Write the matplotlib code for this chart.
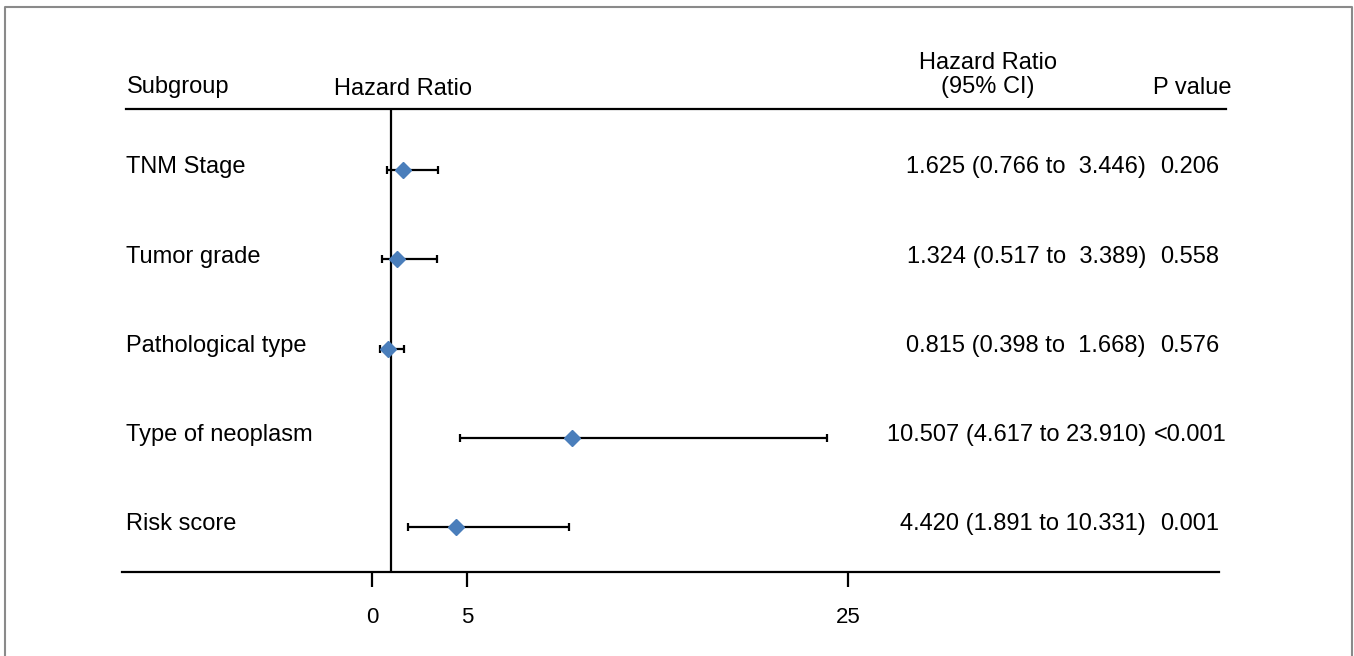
import matplotlib
matplotlib.use("Agg")
import matplotlib.pyplot as plt
from matplotlib.lines import Line2D
import matplotlib.transforms as mtransforms

plt.rcParams['font.family'] = ['Liberation Sans', 'DejaVu Sans']

subgroups = ["TNM Stage", "Tumor grade", "Pathological type", "Type of neoplasm", "Risk score"]
hr = [1.625, 1.324, 0.815, 10.507, 4.420]
ci_low = [0.766, 0.517, 0.398, 4.617, 1.891]
ci_high = [3.446, 3.389, 1.668, 23.910, 10.331]
hr_text = ["1.625 (0.766 to  3.446)", "1.324 (0.517 to  3.389)", "0.815 (0.398 to  1.668)",
           "10.507 (4.617 to 23.910)", "4.420 (1.891 to 10.331)"]
p_text = ["0.206", "0.558", "0.576", "<0.001", "0.001"]
xticks = [0, 5, 25]
ref_value = 1

W, H = 1354, 656
fig = plt.figure(figsize=(W / 100, H / 100), dpi=100)

def fx(px):
    return px / W

def fy(py):
    return 1 - py / H

ax_left, ax_right, ax_top, ax_bot = 122, 1219, 109, 572
ax = fig.add_axes([fx(ax_left), fy(ax_bot), fx(ax_right - ax_left), (ax_bot - ax_top) / H])
ax.patch.set_alpha(0)

ppu = (848 - 372) / 25.0
ax.set_xlim((ax_left - 372) / ppu, (ax_right - 372) / ppu)
row0, drow = 170, 89.25
ax.set_ylim((ax_bot - row0) / drow, (ax_top - row0) / drow)

ys = list(range(len(subgroups)))
xerr = [[h - l for h, l in zip(hr, ci_low)], [u - h for h, u in zip(hr, ci_high)]]
ax.errorbar(hr, ys, xerr=xerr, fmt='none', ecolor='black', elinewidth=1.6,
            capsize=2.8, capthick=1.6, zorder=2)
ax.plot(hr, ys, linestyle='none', marker='D', markersize=8.5,
        color='#4a7ebb', markeredgecolor='#4a7ebb', zorder=3)
ax.axvline(ref_value, color='black', linewidth=1.6, zorder=1)

for s in ['top', 'left', 'right']:
    ax.spines[s].set_visible(False)
ax.spines['bottom'].set_linewidth(1.6)
ax.set_yticks([])
ax.set_xticks(xticks)
ax.set_xticklabels([str(t) for t in xticks])
ax.tick_params(axis='x', direction='out', length=11, width=1.6, pad=14,
               labelsize=16, colors='black')

fs = 17
fs_num = 17
blend = mtransforms.blended_transform_factory(fig.transFigure, ax.transData)
for i, (name, ht, pt) in enumerate(zip(subgroups, hr_text, p_text)):
    fig.text(fx(126), i - 0.03, name, transform=blend, ha='left', va='center', fontsize=fs)
    fig.text(fx(1146), i - 0.03, ht, transform=blend, ha='right', va='center', fontsize=fs_num)
    fig.text(fx(1190), i - 0.03, pt, transform=blend, ha='center', va='center', fontsize=fs_num)

fig.text(fx(127), fy(87), "Subgroup", ha='left', va='center', fontsize=fs)
fig.text(fx(403), fy(89), "Hazard Ratio", ha='center', va='center', fontsize=fs)
fig.text(fx(988), fy(63), "Hazard Ratio", ha='center', va='center', fontsize=fs)
fig.text(fx(988), fy(87), "(95% CI)", ha='center', va='center', fontsize=fs)
fig.text(fx(1192), fy(88), "P value", ha='center', va='center', fontsize=fs)

fig.add_artist(Line2D([fx(126), fx(1226)], [fy(109), fy(109)], color='black',
                      linewidth=1.6, transform=fig.transFigure))

fig.add_artist(Line2D([fx(5), fx(5), fx(1352), fx(1352)],
                      [fy(H + 5), fy(7), fy(7), fy(H + 5)], color='#8a8a8a',
                      linewidth=1.5, transform=fig.transFigure))

fig.savefig("out.png", dpi=100)
